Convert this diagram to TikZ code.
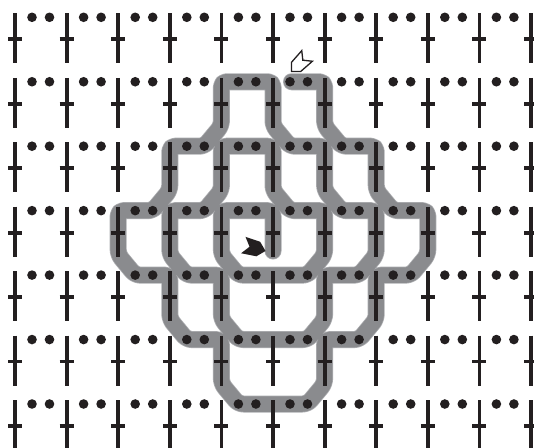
\documentclass[tikz,border=0pt]{standalone}
\definecolor{ink}{RGB}{35,31,32}
\definecolor{bandgray}{RGB}{138,139,142}
\definecolor{bandedge}{RGB}{172,173,176}
\tikzset{
  bandline/.style={line width=#1, rounded corners=5pt, line cap=round, line join=round},
  stitchline/.style={ink, line width=3.8pt},
  arrowshape/.style={line join=miter}
}
\begin{document}
\begin{tikzpicture}[x=1pt,y=-1pt]
\useasboundingbox (0,0) rectangle (534,447);
\clip (0,0) rectangle (534,447);
\fill[white] (0,0) rectangle (534,447);
% spiral band
\def\spiral{(273,251) -- (273,210.65) -- (221.4,210.65) -- (221.4,254.65) -- (238.4,275.1)
 -- (307.6,275.1) -- (324.6,254.65) -- (324.6,210.65) -- (290,210.65) -- (273,190.2)
 -- (273,146.2) -- (221.4,146.2) -- (221.4,190.2) -- (204.4,210.65) -- (169.8,210.65)
 -- (169.8,254.65) -- (186.8,275.1) -- (221.4,275.1) -- (221.4,319.1) -- (238.4,339.55)
 -- (307.6,339.55) -- (324.6,319.1) -- (324.6,275.1) -- (359.2,275.1) -- (376.2,254.65)
 -- (376.2,210.65) -- (341.6,210.65) -- (324.6,190.2) -- (324.6,146.2) -- (290,146.2)
 -- (273,125.75) -- (273,81.75) -- (221.4,81.75) -- (221.4,125.75) -- (204.4,146.2)
 -- (169.8,146.2) -- (169.8,190.2) -- (152.8,210.65) -- (118.2,210.65) -- (118.2,254.65)
 -- (135.2,275.1) -- (169.8,275.1) -- (169.8,319.1) -- (186.8,339.55) -- (221.4,339.55)
 -- (221.4,383.55) -- (238.4,404) -- (307.6,404) -- (324.6,383.55) -- (324.6,339.55)
 -- (359.2,339.55) -- (376.2,319.1) -- (376.2,275.1) -- (410.8,275.1) -- (427.8,254.65)
 -- (427.8,210.65) -- (393.2,210.65) -- (376.2,190.2) -- (376.2,146.2) -- (341.6,146.2)
 -- (324.6,125.75) -- (324.6,81.75) -- (291.5,81.75)}
\draw[bandedge, bandline=17pt] \spiral;
\draw[bandgray, bandline=15.5pt] \spiral;
% stitches and chain dots
\foreach \r in {0,...,6} {
  \pgfmathsetmacro\yy{17.3+64.45*\r}
  \foreach \k in {0,...,10} {
    \pgfmathsetmacro\xx{15+51.6*\k}
    \draw[stitchline] (\xx,\yy-4) -- (\xx,\yy+46);
    \draw[stitchline] (\xx-7,\yy+22) -- (\xx+7,\yy+22);
  }
  \foreach \k in {0,...,9} {
    \pgfmathsetmacro\xx{15+51.6*\k}
    \fill[ink] (\xx+17,\yy) circle[radius=4.8];
    \fill[ink] (\xx+34.5,\yy) circle[radius=4.8];
  }
}
% start arrow (black)
\begin{scope}[shift={(265.5,251)},rotate=-15]
  \fill[ink, arrowshape] (0,0) -- (-7.5,7.5) -- (-23,8.5) -- (-16.5,0) -- (-23,-8.5) -- (-7.5,-7.5) -- cycle;
\end{scope}
% end arrow (white)
\begin{scope}[shift={(291.5,71.5)},rotate=225]
  \filldraw[fill=white, draw=ink, line width=1.3pt, arrowshape] (0,0) -- (-6.5,6.5) -- (-22,7.5) -- (-16,0) -- (-22,-7.5) -- (-6.5,-6.5) -- cycle;
\end{scope}
\end{tikzpicture}
\end{document}
